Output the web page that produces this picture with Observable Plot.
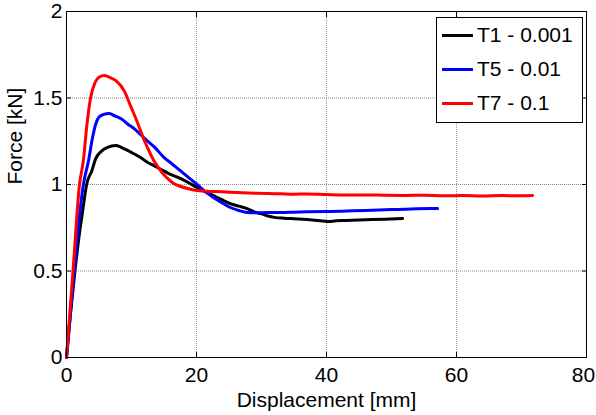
<!DOCTYPE html>
<html>
<head>
<meta charset="utf-8">
<script src="https://cdn.jsdelivr.net/npm/d3@7"></script>
<script src="https://cdn.jsdelivr.net/npm/@observablehq/plot@0.6"></script>
<style>
  html, body { margin: 0; padding: 0; background: #fff; }
  #wrap { position: relative; width: 596px; height: 415px; font-family: "Liberation Sans", Arial, sans-serif; }
  #legend { position: absolute; left: 436px; top: 17px; width: 145px; height: 104px; border: 1px solid #000; background: #fff; }
  .entry { position: absolute; left: 5px; height: 24px; display: flex; align-items: center; font-size: 21px; color: #000; white-space: nowrap; }
  .swatch { width: 31px; height: 3px; margin-right: 4px; }
</style>
</head>
<body>
<div id="wrap"></div>
<script>
const xTicks = [0, 20, 40, 60, 80];
const yTicks = [0, 0.5, 1, 1.5, 2];
const gridXValues = [20, 40, 60];
const gridYValues = [0.5, 1, 1.5];
const seriesNames = ["T1 - 0.001", "T5 - 0.01", "T7 - 0.1"];
const seriesColors = ["#000000", "#0000ff", "#ff0000"];

const t1X = [0, 0.6, 1.3, 2.0, 2.5, 3.1, 3.9, 4.5, 5.3, 6.3, 7.6, 8.4, 9.4, 10.5, 11.4, 12.5, 13.4, 14.9, 16.2, 17.5, 18.8, 20.1, 21.3, 22.6, 23.9, 25.2, 26.5, 27.8, 29.0, 30.0, 31.0, 32.0, 33.5, 35.0, 37.0, 39.0, 40.2, 41.5, 43.0, 45.0, 47.0, 49.0, 51.7];
const t1Y = [0, 0.25, 0.5, 0.72, 0.85, 1.0, 1.08, 1.15, 1.19, 1.215, 1.225, 1.215, 1.197, 1.175, 1.156, 1.127, 1.11, 1.08, 1.055, 1.035, 1.01, 0.983, 0.96, 0.936, 0.912, 0.89, 0.875, 0.861, 0.84, 0.83, 0.818, 0.81, 0.805, 0.802, 0.798, 0.79, 0.786, 0.79, 0.792, 0.795, 0.797, 0.799, 0.803];

const t5X = [0, 0.6, 1.2, 2.0, 2.6, 3.4, 4.0, 4.5, 5.0, 5.7, 6.6, 7.5, 8.4, 9.4, 10.5, 11.5, 12.5, 13.7, 14.9, 16.2, 17.5, 18.8, 20.1, 21.3, 22.6, 23.9, 25.2, 26.5, 27.8, 29.0, 30.9, 33.0, 35.0, 37.0, 40.0, 42.0, 44.0, 46.0, 48.0, 50.0, 52.0, 54.0, 56.0, 57.1];
const t5Y = [0, 0.25, 0.5, 0.82, 1.0, 1.14, 1.27, 1.35, 1.39, 1.405, 1.41, 1.395, 1.38, 1.35, 1.32, 1.285, 1.25, 1.21, 1.16, 1.12, 1.08, 1.04, 1.0, 0.96, 0.925, 0.895, 0.867, 0.85, 0.838, 0.836, 0.838, 0.838, 0.84, 0.842, 0.844, 0.845, 0.848, 0.85, 0.852, 0.855, 0.857, 0.86, 0.861, 0.861];

const t7X = [0, 1.0, 2.0, 2.6, 3.1, 3.7, 4.4, 5.0, 5.8, 6.6, 7.6, 8.9, 9.9, 10.9, 11.8, 12.5, 13.4, 14.2, 14.9, 15.7, 16.5, 17.5, 18.6, 20.1, 22.0, 24.0, 25.2, 27.0, 29.0, 31.0, 33.0, 35.0, 37.0, 40.0, 43.0, 46.0, 49.0, 52.0, 55.0, 58.0, 61.0, 64.0, 67.0, 70.0, 71.7];
const t7Y = [0, 0.5, 1.0, 1.14, 1.33, 1.5, 1.59, 1.62, 1.63, 1.62, 1.6, 1.54, 1.45, 1.36, 1.27, 1.21, 1.14, 1.095, 1.06, 1.03, 1.006, 0.99, 0.977, 0.965, 0.96, 0.958, 0.955, 0.953, 0.95, 0.948, 0.946, 0.944, 0.945, 0.942, 0.94, 0.94, 0.938, 0.937, 0.938, 0.935, 0.936, 0.934, 0.936, 0.935, 0.936];

const seriesX = [t1X, t5X, t7X];
const seriesY = [t1Y, t5Y, t7Y];
const rows = [];
seriesNames.forEach((name, i) => {
  seriesX[i].forEach((x, j) => rows.push({s: name, x, y: seriesY[i][j]}));
});

const blank = () => "";
const plain = d => String(d);
const xInner = xTicks.slice(0, -1);
const xLast = xTicks.slice(-1);
const chart = Plot.plot({
  width: 596,
  height: 415,
  marginLeft: 66,
  marginRight: 10,
  marginTop: 11,
  marginBottom: 58,
  style: {fontFamily: "'Liberation Sans', Arial, sans-serif", fontSize: "21px", background: "#fff", color: "#000", overflow: "visible"},
  x: {domain: [0, 80], ticks: xTicks, label: null},
  y: {domain: [0, 2], ticks: yTicks, label: null},
  color: {domain: seriesNames, range: seriesColors},
  marks: [
    Plot.gridX(gridXValues, {stroke: "#999", strokeOpacity: 1, strokeDasharray: "1,1"}),
    Plot.gridY(gridYValues, {stroke: "#888", strokeOpacity: 1, strokeDasharray: "1,1"}),
    Plot.line(rows, {x: "x", y: "y", z: "s", stroke: "s", strokeWidth: 3, curve: "monotone-x", strokeLinejoin: "round", strokeLinecap: "round"}),
    Plot.frame({stroke: "#000", strokeWidth: 1}),
    Plot.axisX({anchor: "bottom", ticks: xTicks, tickSize: -5, tickFormat: blank, label: null}),
    Plot.axisX({anchor: "top", ticks: xTicks, tickSize: -5, tickFormat: blank, label: null}),
    Plot.axisY({anchor: "left", ticks: yTicks, tickSize: -5, tickFormat: blank, label: null}),
    Plot.axisY({anchor: "right", ticks: yTicks, tickSize: -5, tickFormat: blank, label: null}),
    Plot.axisX({anchor: "bottom", ticks: xInner, tickSize: 0, tickPadding: 10, tickFormat: plain, label: null, fontSize: 21}),
    Plot.axisX({anchor: "bottom", ticks: xLast, tickSize: 0, tickPadding: 10, tickFormat: plain, label: null, fontSize: 21, dx: -3}),
    Plot.axisY({anchor: "left", ticks: yTicks, tickSize: 0, tickPadding: 4, tickFormat: plain, label: null, fontSize: 21}),
    Plot.text(["Displacement [mm]"], {frameAnchor: "bottom", dy: 49, text: d => d, fontSize: 21}),
    Plot.text(["Force [kN]"], {frameAnchor: "left", dx: -51, rotate: -90, text: d => d, fontSize: 21})
  ]
});

const wrap = document.getElementById("wrap");
wrap.appendChild(chart);
const legend = document.createElement("div");
legend.id = "legend";
seriesNames.forEach((name, i) => {
  const e = document.createElement("div");
  e.className = "entry";
  e.style.top = (5 + i * 34) + "px";
  const sw = document.createElement("div");
  sw.className = "swatch";
  sw.style.background = seriesColors[i];
  const t = document.createElement("span");
  t.textContent = name;
  e.appendChild(sw);
  e.appendChild(t);
  legend.appendChild(e);
});
wrap.appendChild(legend);
</script>
</body>
</html>
